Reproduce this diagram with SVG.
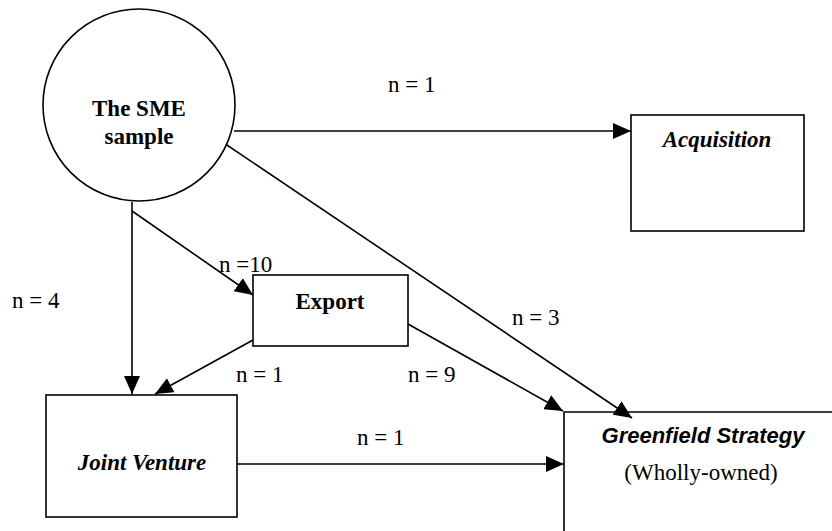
<svg xmlns="http://www.w3.org/2000/svg" width="832" height="531" viewBox="0 0 832 531">
<style>
.shape{fill:#fff;stroke:#000;stroke-width:1.6}
.ln{fill:none;stroke:#000;stroke-width:1.6}
.t{font-family:"Liberation Serif","Times New Roman",serif;font-size:23px;fill:#000}
.b{font-weight:bold}
.i{font-style:italic}
.a{font-family:"Liberation Sans",Arial,sans-serif;font-size:22px;font-weight:bold;font-style:italic;fill:#000}
.m{text-anchor:middle}
</style>
<defs>
<marker id="ah" markerWidth="18" markerHeight="16" refX="18" refY="8" orient="auto" markerUnits="userSpaceOnUse">
<path d="M0,0 L18,8 L0,16 Z" fill="#000"/>
</marker>
</defs>
<rect width="832" height="531" fill="#fff"/>
<g id="connectors">
<line class="ln" x1="234" y1="131" x2="631" y2="131" marker-end="url(#ah)"/>
<line class="ln" x1="218" y1="139" x2="632" y2="418" marker-end="url(#ah)"/>
<line class="ln" x1="132" y1="202" x2="132" y2="394" marker-end="url(#ah)"/>
<line class="ln" x1="132" y1="211" x2="253" y2="295" marker-end="url(#ah)"/>
<line class="ln" x1="253" y1="340" x2="155" y2="394" marker-end="url(#ah)"/>
<line class="ln" x1="408" y1="324" x2="563" y2="411" marker-end="url(#ah)"/>
<line class="ln" x1="237" y1="464" x2="564" y2="464" marker-end="url(#ah)"/>
<text class="t" x="388" y="92">n = 1</text>
<text class="t" x="512" y="325">n = 3</text>
<text class="t" x="219" y="272">n =10</text>
<text class="t" x="12" y="308">n = 4</text>
<text class="t" x="236" y="382">n = 1</text>
<text class="t" x="408" y="382">n = 9</text>
<text class="t" x="357" y="445">n = 1</text>
</g>
<g id="sme">
<circle class="shape" cx="139" cy="105" r="96"/>
<text class="t b m" x="139" y="116">The SME</text>
<text class="t b m" x="139" y="144">sample</text>
</g>
<g id="acquisition">
<rect class="shape" x="631" y="115" width="173" height="116"/>
<text class="t b i m" x="717" y="147">Acquisition</text>
</g>
<g id="export">
<rect class="shape" x="253" y="275" width="155" height="71"/>
<text class="t b m" x="330" y="309">Export</text>
</g>
<g id="joint-venture">
<rect class="shape" x="46" y="395" width="191" height="122"/>
<text class="t b i m" x="142" y="470">Joint Venture</text>
</g>
<g id="greenfield">
<path class="ln" d="M564,531 V412 H832"/>
<text class="a m" x="703" y="443">Greenfield Strategy</text>
<text class="t m" x="701" y="480">(Wholly-owned)</text>
</g>
</svg>
